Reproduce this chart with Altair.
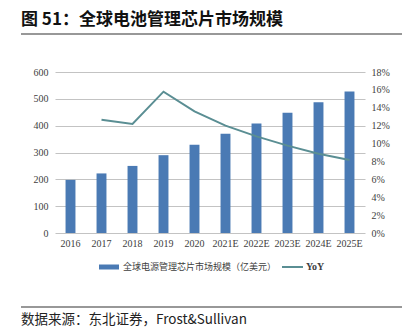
import altair as alt
import pandas as pd

years = ["2016", "2017", "2018", "2019", "2020", "2021E", "2022E", "2023E", "2024E", "2025E"]
market = [198, 222, 250, 290, 329, 370, 408, 448, 487, 527]
yoy = [None, 0.1267, 0.1219, 0.158, 0.136, 0.120, 0.108, 0.0977, 0.0887, 0.0816]

title_text = "图 51：全球电池管理芯片市场规模"
source_text = "数据来源：东北证券，Frost&Sullivan"
legend_bar = "全球电源管理芯片市场规模（亿美元）"
legend_line = "YoY"

BAR = "#4a7ab4"
LINE = "#5a8e93"
GRID = "#c3c3c3"
SERIF = "Liberation Serif"
CJK = "Noto Sans CJK SC"

df = pd.DataFrame({"year": years, "market": market, "yoy": yoy})

def one():
    return alt.Data(values=[{"a": 1}])

x_enc = alt.X("year:N", sort=years, title=None,
              scale=alt.Scale(paddingInner=0.68, paddingOuter=0.34),
              axis=alt.Axis(domain=False, ticks=False, labelAngle=0, labelPadding=5,
                            labelFont=SERIF, labelFontSize=10, labelColor="#404040"))

bars = alt.Chart(df).mark_bar(color=BAR).encode(
    x=x_enc,
    y=alt.Y("market:Q", title=None,
            scale=alt.Scale(domain=[0, 600], nice=False),
            axis=alt.Axis(values=[0, 100, 200, 300, 400, 500, 600], domain=False, ticks=False,
                          labelPadding=7, labelFont=SERIF, labelFontSize=10, labelColor="#404040",
                          grid=True, gridColor=GRID, gridWidth=1.2)),
)

line = alt.Chart(df).transform_filter("datum.yoy != null").mark_line(color=LINE, strokeWidth=2).encode(
    x=alt.X("year:N", sort=years),
    y=alt.Y("yoy:Q", title=None,
            scale=alt.Scale(domain=[0, 0.18], nice=False),
            axis=alt.Axis(orient="right", format=".0%",
                          values=[0, 0.02, 0.04, 0.06, 0.08, 0.10, 0.12, 0.14, 0.16, 0.18],
                          domain=False, ticks=False, grid=False, labelPadding=6,
                          labelFont=SERIF, labelFontSize=10, labelColor="#404040")),
)

def txt(text, x, y, size, font, weight="normal", color="#222222", align="left"):
    return alt.Chart(one()).mark_text(text=text, align=align, baseline="middle", fontSize=size,
                                      font=font, fontWeight=weight, color=color).encode(
        x=alt.value(x), y=alt.value(y))

def hbar(x1, x2, y1, y2, color):
    return alt.Chart(one()).mark_rect(color=color).encode(
        x=alt.value(x1), x2=alt.value(x2), y=alt.value(y1), y2=alt.value(y2))

def hrule(x1, x2, y, color, w):
    return alt.Chart(one()).mark_rule(color=color, strokeWidth=w).encode(
        x=alt.value(x1), x2=alt.value(x2), y=alt.value(y))

title = txt(title_text, -34, -52, 17, CJK, weight="bold", color="#111111")
top_rule = hrule(-34, 347, -38, "#333333", 1.2)
bottom_rule = hrule(-34, 347, 235, "#333333", 1.2)
source = txt(source_text, -34, 248, 13.5, CJK, color="#222222")

leg_rect = hbar(44, 64, 192.5, 197.5, BAR)
leg_text1 = txt(legend_bar, 68, 195, 9, CJK, color="#404040")
leg_line = hbar(227, 248, 194, 196, LINE)
leg_text2 = txt(legend_line, 251, 195, 10, SERIF, weight="bold", color="#404040")

decor = alt.layer(top_rule, bottom_rule, title, source, leg_rect, leg_text1, leg_line, leg_text2)
main = alt.layer(bars, line).resolve_scale(y="independent")

chart = alt.layer(decor, main).resolve_scale(y="independent").properties(
    width=310, height=161,
    autosize=alt.AutoSizeParams(type="none"),
    padding={"left": 55, "top": 72, "right": 43, "bottom": 94},
    background="white",
).configure_view(stroke=None)

chart.save("out.html", embed_options={"renderer": "svg", "actions": False})
